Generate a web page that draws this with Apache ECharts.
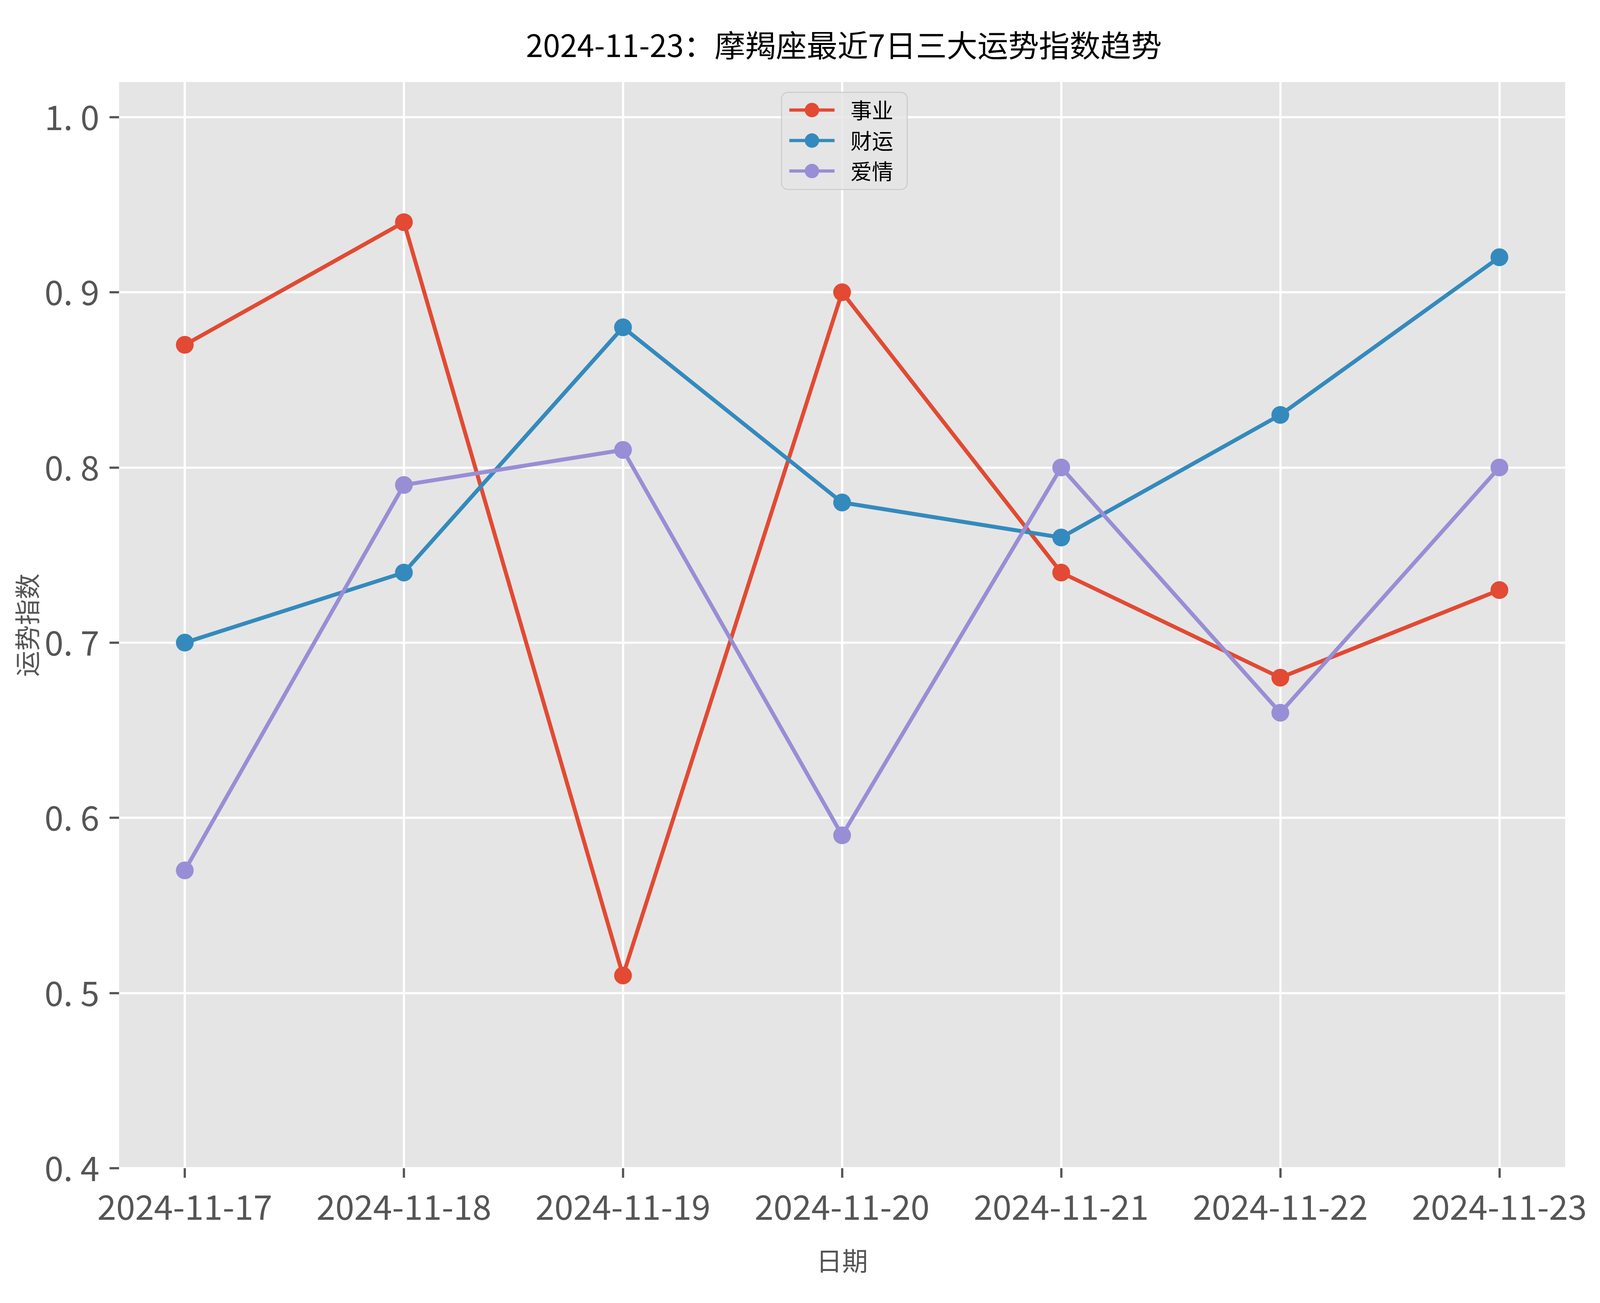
<!DOCTYPE html>
<html>
<head>
<meta charset="utf-8">
<script src="https://cdn.jsdelivr.net/npm/echarts@6/dist/echarts.min.js"></script>
<style>
html,body{margin:0;padding:0;background:#fff;overflow:hidden;}
#chart{width:100vw;height:100vh;}
</style>
</head>
<body>
<div id="chart"></div>
<script>
const dates = ['2024-11-17','2024-11-18','2024-11-19','2024-11-20','2024-11-21','2024-11-22','2024-11-23'];
const career = [0.87, 0.94, 0.51, 0.90, 0.74, 0.68, 0.73];
const wealth = [0.70, 0.74, 0.88, 0.78, 0.76, 0.83, 0.92];
const love = [0.57, 0.79, 0.81, 0.59, 0.80, 0.66, 0.80];
const yTicks = [0.4, 0.5, 0.6, 0.7, 0.8, 0.9, 1.0];
const seriesNames = ['事业', '财运', '爱情'];
const colors = ['#E24A33', '#348ABD', '#988ED5'];
const titleText = '2024-11-23：摩羯座最近7日三大运势指数趋势';

const FONT = '"Noto Sans CJK SC", "Noto Sans", sans-serif';
const xIdx = dates.map((d, i) => i);
const toPairs = arr => arr.map((v, i) => [i, v]);

// layout designed for a 6195 x 3335 canvas, scaled to the actual window
const el = document.getElementById('chart');
const W = el.clientWidth || window.innerWidth;
const H = el.clientHeight || window.innerHeight;
const sx = W / 6195, sy = H / 3335;
const fs = Math.min(sx, sy);          // text & legend scale
const fm = Math.sqrt(sx * sy);        // mark / line scale

const chart = echarts.init(el, null, {renderer: 'canvas', width: W, height: H});
const mkSeries = (name, arr, color) => ({
  name: name,
  type: 'line',
  data: toPairs(arr),
  symbol: 'circle',
  symbolSize: 56 * fm,
  showSymbol: true,
  lineStyle: {width: 12.5 * fm, color: color},
  itemStyle: {color: color},
  emphasis: {disabled: true},
  animation: false
});

const legendBoxW = 468 * fs;

chart.setOption({
  animation: false,
  textStyle: {fontFamily: FONT},
  title: {
    text: titleText,
    left: 3260 * sx,
    top: 119 * sy - 0.6 * 119 * fs,
    textAlign: 'center',
    textStyle: {fontFamily: FONT, fontSize: 119 * fs, fontWeight: 'normal', color: '#000'}
  },
  legend: {
    orient: 'vertical',
    left: 3260 * sx - legendBoxW / 2,
    top: 210 * sy + 40 * fs,
    data: seriesNames,
    itemWidth: 175 * fs,
    itemHeight: 70 * fs,
    itemGap: 35 * fs,
    padding: [27 * fs, 54 * fs, 30 * fs, 24 * fs],
    backgroundColor: 'rgba(229,229,229,0.8)',
    borderColor: '#cccccc',
    borderWidth: 4 * fs,
    borderRadius: 25 * fs,
    lineStyle: {width: 12.5 * fs},
    textStyle: {fontFamily: FONT, fontSize: 83 * fs, color: '#000', padding: [0, 0, 0, 54 * fs]}
  },
  grid: {
    left: 461 * sx, right: 135 * sx, top: 210 * sy, bottom: 345 * sy,
    show: true, backgroundColor: '#E5E5E5', borderWidth: 0
  },
  xAxis: {
    type: 'value',
    min: -0.3,
    max: 6.3,
    name: '日期',
    nameLocation: 'middle',
    nameGap: (3227 - 2990) * sy - 50 * fs,
    nameTextStyle: {fontFamily: FONT, fontSize: 100 * fs, color: '#555555'},
    axisLine: {show: false, onZero: false},
    axisTick: {show: true, customValues: xIdx, length: 30 * fm, lineStyle: {color: '#555555', width: 7 * fm}},
    axisLabel: {
      customValues: xIdx,
      formatter: v => dates[Math.round(v)],
      fontFamily: FONT, fontSize: 132 * fs, color: '#555555',
      margin: (3089 - 2990) * sy - 66 * fs
    },
    splitLine: {show: true, lineStyle: {color: '#ffffff', width: 7 * fm}}
  },
  yAxis: {
    type: 'value',
    min: 0.4,
    max: 1.02,
    name: '运势指数',
    nameLocation: 'middle',
    nameGap: (461 - 112) * sx - 50 * fs,
    nameTextStyle: {fontFamily: FONT, fontSize: 100 * fs, color: '#555555'},
    axisLine: {show: false, onZero: false},
    axisTick: {show: true, customValues: yTicks, length: 30 * fm, lineStyle: {color: '#555555', width: 7 * fm}},
    axisLabel: {
      customValues: yTicks,
      formatter: v => v.toFixed(1).replace('.', '. '),
      fontFamily: FONT, fontSize: 132 * fs, color: '#555555',
      margin: (461 - 385) * sx
    },
    splitLine: {show: true, lineStyle: {color: '#ffffff', width: 7 * fm}}
  },
  series: [
    mkSeries(seriesNames[0], career, colors[0]),
    mkSeries(seriesNames[1], wealth, colors[1]),
    mkSeries(seriesNames[2], love, colors[2])
  ]
});
</script>
</body>
</html>
